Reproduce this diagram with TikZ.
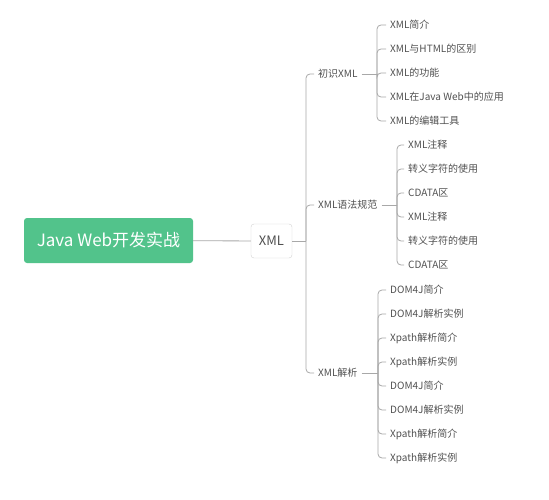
\documentclass[tikz,border=0pt]{standalone}
\usepackage{fontspec}
\setmainfont{Noto Sans CJK SC}
\usetikzlibrary{positioning}
\definecolor{rootgreen}{HTML}{52C38B}
\definecolor{linegray}{HTML}{A8A8A8}
\definecolor{textgray}{HTML}{505050}
\tikzset{%
	root/.style={rectangle, rounded corners=3pt, fill=rootgreen, text=white,%
		minimum width=169pt, minimum height=45pt, font=\fontsize{17}{20}\selectfont},
	hub/.style={draw=black!18, rectangle, rounded corners=3pt, fill=white,%
		minimum width=41pt, minimum height=34pt, text=textgray, font=\fontsize{13}{15}\selectfont},
	topic/.style={anchor=west, inner xsep=4pt, inner ysep=2pt, text=textgray,%
		font=\fontsize{10}{12}\selectfont},
	leaf/.style={topic},
	link/.style={draw=linegray, line width=0.8pt, rounded corners=4pt}
}
\begin{document}
\begin{tikzpicture}[x=1pt, y=-1pt]
	\useasboundingbox (0,0) rectangle (549,500);

	\node[root] (java) at (108.5,240.5) {Java Web开发实战};
	\node[hub] (xml) at (271.5,241) {XML};

	\node[topic] (t1) at (314,74) {初识XML};
	\node[topic] (t2) at (314,205) {XML语法规范};
	\node[topic] (t3) at (314,373) {XML解析};

	% leaves
	\foreach \name [count=\i] in {XML简介, XML与HTML的区别, XML的功能, XML在Java Web中的应用, XML的编辑工具}
		\node[leaf] (a\i) at (386, {25+24*(\i-1)}) {\name};
	\foreach \name [count=\i] in {XML注释, 转义字符的使用, CDATA区, XML注释, 转义字符的使用, CDATA区}
		\node[leaf] (b\i) at (404, {145+24*(\i-1)}) {\name};
	\foreach \name [count=\i] in {DOM4J简介, DOM4J解析实例, Xpath解析简介, Xpath解析实例, DOM4J简介, DOM4J解析实例, Xpath解析简介, Xpath解析实例}
		\node[leaf] (c\i) at (386, {290+24*(\i-1)}) {\name};

	\coordinate (fork) at (306,241);
	\coordinate (fa) at (377,74);
	\coordinate (fb) at (397,205);
	\coordinate (fc) at (378,373);

	\draw[link] (java) -- (xml);
	\draw[link] (xml) -- (fork);
	\foreach \i in {1,2,3}
		\draw[link] (fork) |- (t\i.west);

	\draw[link] (t1) -- (fa);
	\draw[link] (t2) -- (fb);
	\draw[link] (t3) -- (fc);
	\foreach \i in {1,...,5}
		\draw[link] (fa) |- (a\i.west);
	\foreach \i in {1,...,6}
		\draw[link] (fb) |- (b\i.west);
	\foreach \i in {1,...,8}
		\draw[link] (fc) |- (c\i.west);
\end{tikzpicture}
\end{document}
